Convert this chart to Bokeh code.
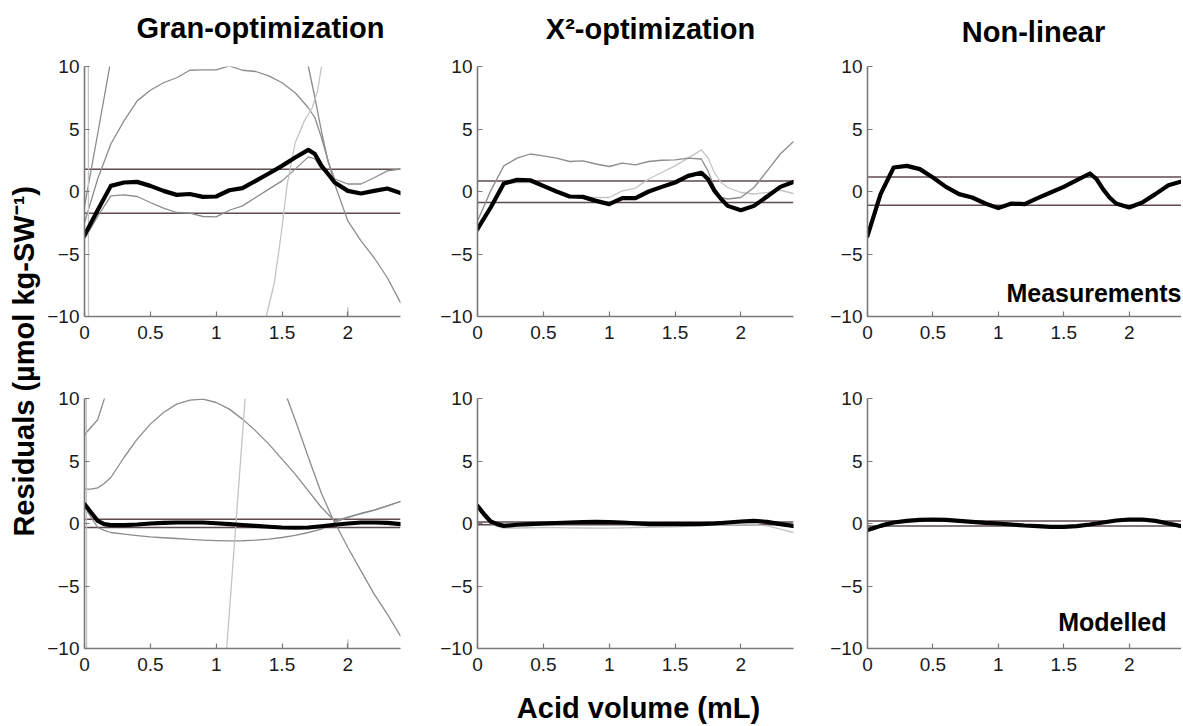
import math
from bokeh.plotting import figure
from bokeh.layouts import row, column
from bokeh.models import Span, Label, FixedTicker
from bokeh.embed import file_html
from bokeh.resources import INLINE
from bokeh.core.properties import value

FONT = "Liberation Sans"

# ---------------- data ----------------
TITLES = ["Gran-optimization", "X\u00b2-optimization", "Non-linear"]
ROW_NOTES = ["Measurements", "Modelled"]
XLABEL = "Acid volume (mL)"
YLABEL = "Residuals (\u00b5mol kg-SW\u207b\u00b9)"

XTICKS = [0, 0.5, 1, 1.5, 2]
XTICK_LABELS = ["0", "0.5", "1", "1.5", "2"]
YTICKS = [-10, -5, 0, 5, 10]
YTICK_LABELS = ["\u221210", "\u22125", "0", "5", "10"]

X_TOP = [0, 0.1, 0.2, 0.3, 0.4, 0.5, 0.6, 0.7, 0.8, 0.9, 1.0, 1.1, 1.2, 1.3, 1.4,
         1.5, 1.6, 1.7, 1.75, 1.8, 1.85, 1.9, 2.0, 2.1, 2.2, 2.3, 2.4]
X_BOT = [0, 0.05, 0.1, 0.15, 0.2, 0.3, 0.4, 0.5, 0.6, 0.7, 0.8, 0.9, 1.0, 1.1, 1.2,
         1.3, 1.4, 1.5, 1.6, 1.7, 1.8, 1.9, 2.0, 2.1, 2.2, 2.3, 2.4]

# --- Gran-optimization, measurements ---
gran_meas_mean = [-3.5, -1.5, 0.45, 0.72, 0.77, 0.45, 0.05, -0.27, -0.2, -0.43, -0.4, 0.1, 0.27,
                  0.85, 1.44, 2.05, 2.72, 3.33, 3.0, 2.05, 1.4, 0.72, 0.05, -0.16, 0.05, 0.24, -0.13]
gran_meas_low = [-3.8, -2.0, -0.35, -0.27, -0.4, -0.88, -1.33, -1.68, -1.73, -2.0, -2.03, -1.5, -1.15,
                 -0.48, 0.19, 0.85, 1.79, 2.77, 2.6, 1.8, 1.4, 1.0, 0.6, 0.6, 1.1, 1.65, 1.8]
gran_meas_arch = [-2.5, 1.0, 3.8, 5.65, 7.25, 8.1, 8.7, 9.1, 9.7, 9.73, 9.73, 10.05, 9.7,
                  9.6, 9.25, 8.7, 7.9, 6.7, 5.9, 4.3, 2.45, 0.6, -2.35, -3.95, -5.3, -6.9, -8.9]
gran_meas_left_x = [0, 0.1, 0.2, 0.3]
gran_meas_left_y = [-1.2, 4.6, 10.5, 16.0]
gran_meas_rise_x = [1.3, 1.38, 1.44, 1.49, 1.54, 1.6, 1.67, 1.73, 1.77, 1.8, 1.85]
gran_meas_rise_y = [-16.0, -10.0, -7.4, -3.7, 0.6, 3.9, 5.65, 6.7, 8.05, 10.0, 14.0]
gran_meas_fall_x = [1.65, 1.7, 1.75, 1.8, 1.85, 1.9]
gran_meas_fall_y = [13.0, 10.0, 7.5, 4.8, 2.4, 1.0]
gran_meas_vert_x = [0.025, 0.035]
gran_meas_vert_y = [60.0, -60.0]
gran_meas_spike_x = [1.98, 2.0, 2.02]
gran_meas_spike_y = [-14.0, -9.3, -14.0]
gran_meas_band = [1.79, -1.73]

# --- X2-optimization, measurements ---
chi_meas_mean = [-3.0, -1.28, 0.64, 0.93, 0.9, 0.45, 0.0, -0.4, -0.43, -0.75, -1.01, -0.53, -0.53,
                 0.0, 0.37, 0.72, 1.25, 1.5, 1.0, 0.05, -0.6, -1.15, -1.5, -1.15, -0.4, 0.37, 0.77]
chi_meas_dark = [-2.35, 0.05, 2.05, 2.67, 3.0, 2.85, 2.67, 2.4, 2.45, 2.2, 2.0, 2.27, 2.13,
                 2.4, 2.5, 2.53, 2.67, 2.6, 1.65, 0.32, -0.48, -0.6, -0.48, 0.32, 1.65, 3.0, 4.0]
chi_meas_light = [-3.3, -1.3, 0.6, 0.72, 0.72, 0.32, -0.08, -0.35, -0.48, -0.48, -0.48, 0.05, 0.27,
                  1.0, 1.52, 2.05, 2.67, 3.33, 2.7, 1.5, 0.72, 0.32, -0.08, -0.2, -0.08, 0.1, -0.16]
chi_meas_band = [0.85, -0.88]

# --- Non-linear, measurements ---
nl_meas_mean = [-3.55, -0.21, 1.92, 2.05, 1.79, 1.12, 0.37, -0.21, -0.48, -0.96, -1.33, -0.96, -1.01,
                -0.53, -0.08, 0.37, 0.91, 1.44, 1.0, 0.19, -0.48, -0.96, -1.28, -0.88, -0.21, 0.5, 0.8]
nl_meas_band = [1.17, -1.09]

# --- Gran-optimization, modelled ---
gran_mod_mean = [1.55, 0.88, 0.21, -0.05, -0.13, -0.13, -0.08, 0.0, 0.05, 0.08, 0.08, 0.08, 0.02,
                 -0.05, -0.12, -0.19, -0.26, -0.32, -0.34, -0.32, -0.22, -0.1, 0.0, 0.08, 0.08, 0.05, -0.05]
gran_mod_low = [1.3, 0.5, -0.32, -0.55, -0.72, -0.85, -0.97, -1.07, -1.14, -1.2, -1.27, -1.33, -1.37,
                -1.39, -1.38, -1.33, -1.25, -1.12, -0.95, -0.72, -0.45, 0.08, 0.48, 0.8, 1.07, 1.41, 1.76]
gran_mod_arch = [2.75, 2.75, 2.85, 3.2, 3.68, 5.28, 6.75, 7.95, 8.88, 9.55, 9.87, 9.95, 9.68,
                 9.15, 8.35, 7.41, 6.35, 5.15, 3.95, 2.61, 1.28, 0.2, 0.5, 0.8, 1.07, 1.41, 1.76]
gran_mod_fall_x = [1.45, 1.54, 1.6, 1.7, 1.8, 1.88, 2.0, 2.1, 2.2, 2.3, 2.4]
gran_mod_fall_y = [12.5, 10.0, 8.3, 5.3, 2.4, 0.5, -1.92, -3.79, -5.65, -7.25, -8.99]
gran_mod_left_x = [0, 0.05, 0.1, 0.15, 0.2]
gran_mod_left_y = [7.1, 7.7, 8.3, 9.95, 12.0]
gran_mod_rise_x = [1.05, 1.08, 1.22, 1.25]
gran_mod_rise_y = [-14.3, -10.0, 10.0, 14.3]
gran_mod_vert_x = [0.01, 0.02]
gran_mod_vert_y = [60.0, -60.0]
gran_mod_spike_x = [1.98, 2.0, 2.02]
gran_mod_spike_y = [-14.0, -9.3, -14.0]
gran_mod_band = [0.35, -0.32]

# --- X2-optimization, modelled ---
chi_mod_mean = [1.41, 0.75, 0.16, -0.05, -0.19, -0.1, -0.05, 0.0, 0.04, 0.08, 0.11, 0.13, 0.11,
                0.08, 0.02, -0.05, -0.05, -0.05, -0.05, -0.05, 0.0, 0.08, 0.16, 0.21, 0.13, -0.05, -0.19]
chi_mod_dark = [1.3, 0.6, 0.05, -0.1, -0.15, -0.12, -0.08, -0.05, -0.02, 0.0, 0.02, 0.03, 0.02,
                0.0, -0.03, -0.07, -0.1, -0.12, -0.12, -0.1, -0.05, 0.02, 0.1, 0.12, 0.05, -0.1, -0.3]
chi_mod_light = [1.2, 0.5, 0.0, -0.25, -0.37, -0.36, -0.34, -0.32, -0.33, -0.35, -0.36, -0.37, -0.37,
                 -0.35, -0.32, -0.3, -0.28, -0.27, -0.22, -0.15, -0.1, -0.07, -0.05, -0.08, -0.19, -0.45, -0.72]
chi_mod_band = [0.12, -0.1]

# --- Non-linear, modelled ---
nl_mod_mean = [-0.53, -0.36, -0.19, -0.05, 0.08, 0.21, 0.29, 0.32, 0.29, 0.21, 0.13, 0.05, 0.0,
               -0.08, -0.16, -0.21, -0.27, -0.27, -0.21, -0.08, 0.08, 0.24, 0.32, 0.32, 0.21, 0.0, -0.21]
nl_mod_band = [0.21, -0.19]

# ---------------- styling ----------------
AXIS_COLOR = "#7a7a7a"
LABEL_COLOR = "#1a1a1a"
DARK = "#8c8c8c"
LIGHT = "#c4c4c4"
BAND = "#5e4b4b"
STYLE = {"mean": ("#000000", 4.2), "dark": (DARK, 1.3), "light": (LIGHT, 1.3)}

HEAD_H, TOP_T, TOP_B, BOT_T, BOT_B, FOOT_H = 50, 16, 32, 50, 32, 46
COLS = [(316, 40, 12), (316, 65, 12), (314, 62, 0)]
TITLE_DX = [18, 15, 9]
TITLE_Y = [22.5, 21.7, 18.5]     # text anchor height (px) above the bottom of the header strip
FOOT_Y = 18.5


def strip(fw, left, right, height, text=None, dx=0, y=0.0, size="29px"):
    """A blank strip aligned with a panel column, carrying one bold text."""
    s = figure(frame_width=fw, frame_height=height, x_range=(0, 2.4), y_range=(0, height),
               x_axis_type=None, y_axis_type=None, output_backend="svg",
               toolbar_location=None, min_border_left=left, min_border_right=right,
               min_border_top=0, min_border_bottom=0)
    s.outline_line_color = None
    s.xgrid.visible = False
    s.ygrid.visible = False
    if text is not None:
        s.text(x=[1.2], y=[y], text=[text], x_offset=dx, text_align="center",
               text_baseline="alphabetic", text_font=value(FONT), text_font_size=size,
               text_font_style="bold", text_color="#000000")
    return s


def panel(fw, left, right, top, bottom, series, band, note=None, note_y=0.0, note_dx=0):
    p = figure(frame_width=fw, frame_height=250, x_range=(0, 2.4), y_range=(-10, 10),
               output_backend="svg", toolbar_location=None,
               min_border_left=left, min_border_right=right,
               min_border_top=top, min_border_bottom=bottom)
    p.outline_line_color = None
    p.background_fill_color = "white"
    p.border_fill_color = "white"
    p.xgrid.visible = False
    p.ygrid.visible = False
    for ax, ticks, labels in ((p.xaxis[0], XTICKS, XTICK_LABELS), (p.yaxis[0], YTICKS, YTICK_LABELS)):
        ax.ticker = FixedTicker(ticks=ticks)
        ax.major_label_overrides = dict(zip(ticks, labels))
        ax.axis_line_color = AXIS_COLOR
        ax.axis_line_width = 1.6
        ax.major_tick_line_color = AXIS_COLOR
        ax.major_tick_line_width = 1.2
        ax.major_tick_in = 5
        ax.major_tick_out = 0
        ax.minor_tick_line_color = None
        ax.major_label_text_font = FONT
        ax.major_label_text_font_size = "19px"
        ax.major_label_text_color = LABEL_COLOR
    p.xaxis[0].major_label_standoff = 9
    p.yaxis[0].major_label_standoff = 5

    for lvl in band:
        p.add_layout(Span(location=lvl, dimension="width", line_color=BAND,
                          line_width=1.5, level="underlay"))
    for xs, ys, kind in series:
        c, w = STYLE[kind]
        p.line(xs, ys, line_color=c, line_width=w, line_join="round", line_cap="round")

    if note is not None:
        p.add_layout(Label(x=2.4, y=note_y, x_offset=note_dx, text=note,
                           text_align="right", text_baseline="alphabetic",
                           text_font=FONT, text_font_size="25px",
                           text_font_style="bold", text_color="#000000"))
    return p


top_series = [
    [(X_TOP, gran_meas_arch, "dark"), (X_TOP, gran_meas_low, "dark"),
     (gran_meas_left_x, gran_meas_left_y, "dark"), (gran_meas_fall_x, gran_meas_fall_y, "dark"),
     (gran_meas_rise_x, gran_meas_rise_y, "light"), (gran_meas_vert_x, gran_meas_vert_y, "light"),
     (gran_meas_spike_x, gran_meas_spike_y, "light"), (X_TOP, gran_meas_mean, "mean")],
    [(X_TOP, chi_meas_light, "light"), (X_TOP, chi_meas_dark, "dark"), (X_TOP, chi_meas_mean, "mean")],
    [(X_TOP, nl_meas_mean, "mean")],
]
top_bands = [gran_meas_band, chi_meas_band, nl_meas_band]
bot_series = [
    [(X_BOT, gran_mod_arch, "dark"), (X_BOT, gran_mod_low, "dark"),
     (gran_mod_left_x, gran_mod_left_y, "dark"), (gran_mod_fall_x, gran_mod_fall_y, "dark"),
     (gran_mod_rise_x, gran_mod_rise_y, "light"), (gran_mod_vert_x, gran_mod_vert_y, "light"),
     (gran_mod_spike_x, gran_mod_spike_y, "light"), (X_BOT, gran_mod_mean, "mean")],
    [(X_BOT, chi_mod_light, "light"), (X_BOT, chi_mod_dark, "dark"), (X_BOT, chi_mod_mean, "mean")],
    [(X_BOT, nl_mod_mean, "mean")],
]
bot_bands = [gran_mod_band, chi_mod_band, nl_mod_band]

heads, top_figs, bot_figs, feet = [], [], [], []
for i, (fw, l, r) in enumerate(COLS):
    heads.append(strip(fw, l, r, HEAD_H, TITLES[i], TITLE_DX[i], TITLE_Y[i]))
    top_figs.append(panel(fw, l, r, TOP_T, TOP_B, top_series[i], top_bands[i],
                          note=ROW_NOTES[0] if i == 2 else None, note_y=-8.1, note_dx=0))
    bot_figs.append(panel(fw, l, r, BOT_T, BOT_B, bot_series[i], bot_bands[i],
                          note=ROW_NOTES[1] if i == 2 else None, note_y=-7.9, note_dx=-15))
    feet.append(strip(fw, l, r, FOOT_H, XLABEL if i == 1 else None, 3, FOOT_Y))

total_h = HEAD_H + TOP_T + 250 + TOP_B + BOT_T + 250 + BOT_B + FOOT_H
ylab = figure(width=44, height=total_h, x_range=(0, 1), y_range=(0, 1),
              x_axis_type=None, y_axis_type=None, output_backend="svg",
              toolbar_location=None, min_border=0)
ylab.outline_line_color = None
ylab.xgrid.visible = False
ylab.ygrid.visible = False
ylab.text(x=[0.536], y=[0.503], text=[YLABEL], angle=math.pi / 2,
          text_align="center", text_baseline="middle",
          text_font=value(FONT), text_font_size="29px", text_font_style="bold",
          text_color="#000000")

layout = row(ylab, column(row(*heads), row(*top_figs), row(*bot_figs), row(*feet)))
open("out.html", "w").write(file_html(layout, INLINE))
